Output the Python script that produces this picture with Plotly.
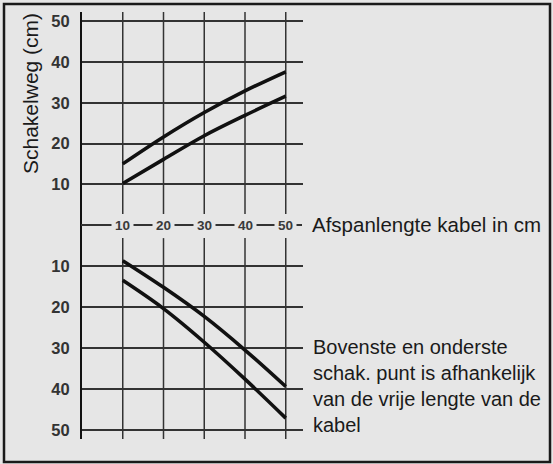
import plotly.graph_objects as go

# ---- data ----
x_labels = [10, 20, 30, 40, 50]          # Afspanlengte kabel (cm)
y_ticks = [10, 20, 30, 40, 50]           # Schakelweg tick values
top_upper = [15.0, 21.6, 27.6, 32.9, 37.6]
top_lower = [10.2, 16.1, 21.9, 26.9, 31.6]
bot_upper = [8.7, 15.2, 22.3, 30.5, 39.4]
bot_lower = [13.5, 20.4, 28.6, 37.6, 47.1]

W, H = 553, 464
ML, MR, MT, MB = 82, 250, 12, 25
PW, PH = W - ML - MR, H - MT - MB
SPLIT = (H - MB - 225) / PH   # paper y of the middle line


def px(xp):
    return (xp - ML) / PW


def py(yp):
    return (H - MB - yp) / PH


BG = "#e6e6e6"
INK = "#1a1a1a"
GRID = "#333333"
FONT = "Liberation Sans, Arial, sans-serif"

fig = go.Figure()
for ys in (top_upper, top_lower):
    fig.add_trace(go.Scatter(x=x_labels, y=ys, mode="lines", xaxis="x", yaxis="y",
                             line=dict(color="#111111", width=3.6, shape="spline", smoothing=1.0),
                             hoverinfo="skip", showlegend=False))
for ys in (bot_upper, bot_lower):
    fig.add_trace(go.Scatter(x=x_labels, y=ys, mode="lines", xaxis="x2", yaxis="y2",
                             line=dict(color="#111111", width=3.6, shape="spline", smoothing=1.0),
                             hoverinfo="skip", showlegend=False))

shapes = []
for xv in x_labels:
    shapes.append(dict(type="line", xref="x", yref="y", x0=xv, x1=xv, y0=2.7, y1=52.3,
                       line=dict(color=GRID, width=1.5), layer="below"))
    shapes.append(dict(type="line", xref="x2", yref="y2", x0=xv, x1=xv, y0=3.2, y1=52.2,
                       line=dict(color=GRID, width=1.5), layer="below"))
# middle horizontal axis line
shapes.append(dict(type="line", xref="paper", yref="paper", x0=px(81), x1=px(302),
                   y0=SPLIT, y1=SPLIT, line=dict(color=GRID, width=2)))
# outer frame
shapes.append(dict(type="rect", xref="paper", yref="paper", x0=px(4), x1=px(550),
                   y0=py(462), y1=py(4), line=dict(color=INK, width=2.5)))

annotations = []
for xv in x_labels:
    annotations.append(dict(x=xv, xref="x", y=SPLIT, yref="paper", text=f"<b>{xv}</b>",
                            showarrow=False, bgcolor=BG, borderpad=3,
                            font=dict(family=FONT, size=13.5, color="#3a3a3a")))
annotations.append(dict(x=px(310), y=py(224), xref="paper", yref="paper",
                        text="Afspanlengte kabel in cm", showarrow=False,
                        xanchor="left", yanchor="middle",
                        font=dict(family=FONT, size=20.5, color=INK)))
annotations.append(dict(x=px(311), y=py(386), xref="paper", yref="paper",
                        text="Bovenste en onderste<br>schak. punt is afhankelijk<br>van de vrije lengte van de<br>kabel",
                        showarrow=False, xanchor="left", yanchor="middle", align="left",
                        font=dict(family=FONT, size=20, color=INK)))
annotations.append(dict(x=px(30), y=py(94), xref="paper", yref="paper",
                        text="Schakelweg (cm)", showarrow=False, textangle=-90,
                        xanchor="center", yanchor="middle",
                        font=dict(family=FONT, size=21, color=INK)))

axis_common = dict(showgrid=True, gridcolor=GRID, gridwidth=1.5, zeroline=False,
                   showline=True, linecolor="#111111", linewidth=2, ticks="",
                   tickvals=y_ticks, ticktext=[f"<b>{v}</b>" for v in y_ticks],
                   tickfont=dict(family=FONT, size=16.5, color="#333333"),
                   ticklabelstandoff=7, fixedrange=True)

fig.update_layout(
    width=W, height=H,
    margin=dict(l=ML, r=MR, t=MT, b=MB, pad=0),
    paper_bgcolor=BG, plot_bgcolor=BG,
    showlegend=False,
    xaxis=dict(range=[0, PW / 4.075], domain=[0, 1], anchor="y", visible=False, fixedrange=True),
    xaxis2=dict(range=[0, PW / 4.075], domain=[0, 1], anchor="y2", visible=False, fixedrange=True),
    yaxis=dict(domain=[SPLIT, 1], range=[0, (225 - MT) / 4.075], anchor="x", **axis_common),
    yaxis2=dict(domain=[0, SPLIT], range=[(H - MB - 225) / 4.1, 0], anchor="x2", **axis_common),
    shapes=shapes,
    annotations=annotations,
)

fig.write_html("out.html", config={"displayModeBar": False},
               post_script="document.body.style.margin='0';document.body.style.background='%s';" % BG)
